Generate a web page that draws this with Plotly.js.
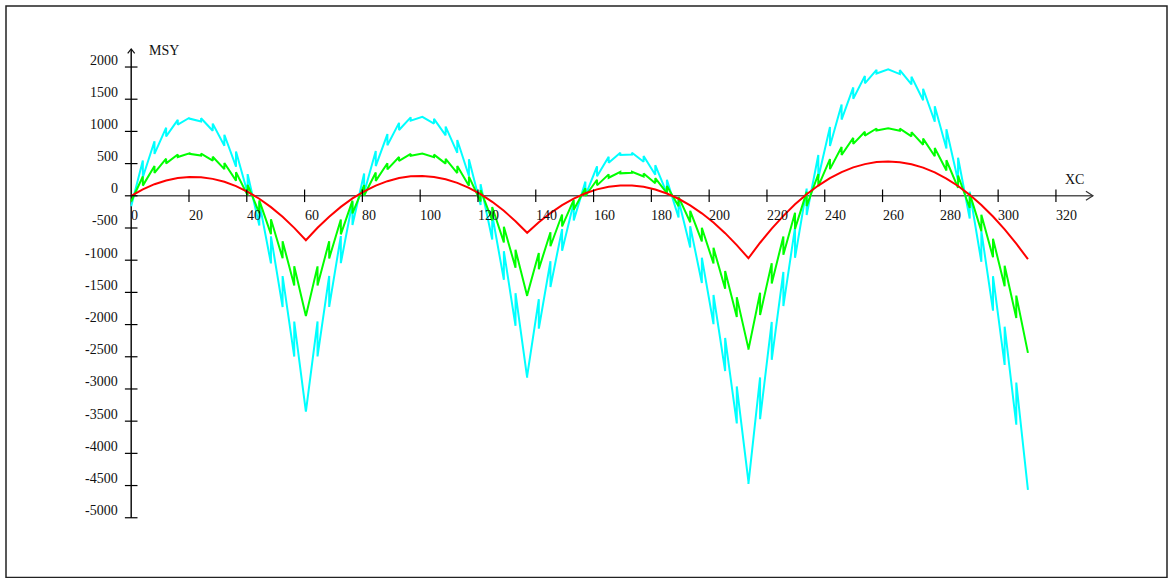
<!DOCTYPE html>
<html>
<head>
<meta charset="utf-8">
<script src="https://cdn.plot.ly/plotly-3.0.1.min.js"></script>
<style>html,body{margin:0;padding:0;background:#fff;}#chart{width:1175px;height:578px;}</style>
</head>
<body>
<div id="chart"></div>
<script>
// ---- data ----
// element node positions along the beam (XC)
const nodeX = [0,4.03,8.06,12.09,16.12,20.15,24.18,28.21,32.24,36.27,40.3,44.33,48.36,52.39,56.42,60.45,
  64.48,68.51,72.54,76.57,80.6,84.63,88.66,92.69,96.72,100.75,104.78,108.81,112.84,116.87,120.9,124.93,128.96,132.99,137.02,
  141.05,145.08,149.11,153.14,157.17,161.2,165.23,169.26,173.29,177.32,181.35,185.38,189.41,193.44,197.47,201.5,205.53,209.56,213.59,
  217.62,221.65,225.68,229.71,233.74,237.77,241.8,245.83,249.86,253.89,257.92,261.95,265.98,270.01,274.04,278.07,282.1,286.13,290.16,294.19,298.22,302.25,306.28,310.31];

// red series: value at each node
const redY = [0,100,180,238,276,292,288,263,217,150,62,-46,-176,-326,-498,-690,
  -496,-324,-172,-41,69,159,227,275,302,308,293,258,201,124,26,-93,-233,-394,-575,
  -411,-268,-145,-43,39,100,140,161,160,140,98,36,-46,-149,-272,-416,-580,-765,-970,
  -729,-510,-311,-133,23,159,274,368,441,492,523,533,522,490,437,363,268,152,15,-143,-322,-522,-743,-985];

// green series: value at start and at end of each element
const greenStart = [-88,158,355,503,602,652,654,606,510,365,171,-72,-364,-705,-1095,
  -1866,-1395,-972,-598,-273,4,231,410,541,622,655,639,574,461,298,87,-173,-481,-839,
  -1543,-1139,-784,-476,-216,-3,162,280,349,372,346,273,152,-17,-233,-497,-808,-1167,-1574,
  -2389,-1852,-1361,-915,-514,-159,150,414,633,806,933,1015,1052,1043,988,888,743,552,315,33,-295,-668,-1086,-1550];
const greenEnd = [300,463,577,642,659,626,545,414,235,7,-270,-596,-971,-1394,-1867,
  -1096,-707,-367,-76,167,361,506,602,650,649,599,500,353,157,-88,-382,-724,-1116,-1555,
  -887,-565,-290,-63,117,249,333,370,359,300,194,40,-162,-411,-708,-1052,-1445,-1884,-2372,
  -1506,-1046,-632,-263,61,339,571,758,899,995,1045,1050,1010,924,792,615,392,124,-190,-549,-954,-1404,-1899,-2440];

// cyan series: value at start and at end of each element
const cyanStart = [-161,289,650,922,1105,1199,1204,1121,948,687,337,-102,-630,-1247,-1953,
  -3353,-2495,-1726,-1046,-454,48,462,786,1022,1168,1226,1195,1075,866,568,181,-295,-860,-1513,
  -2800,-2064,-1416,-855,-382,4,302,512,634,669,617,476,248,-67,-471,-962,-1540,-2207,-2960,
  -4474,-3469,-2548,-1713,-964,-299,280,775,1184,1508,1746,1900,1968,1952,1850,1663,1390,1033,590,63,-550,-1248,-2032,-2900];
const cyanEnd = [549,848,1058,1180,1212,1156,1010,776,453,41,-460,-1050,-1728,-2496,-3352,
  -1951,-1244,-625,-96,345,696,959,1133,1218,1214,1121,939,668,308,-141,-678,-1305,-2020,-2824,
  -1605,-1017,-517,-105,220,457,606,668,642,528,327,38,-338,-802,-1355,-1994,-2721,-3536,-4438,
  -2820,-1959,-1183,-493,112,633,1068,1418,1683,1862,1956,1966,1890,1729,1483,1151,735,233,-354,-1026,-1784,-2626,-3554,-4566];

// axes
const xTicks = [0,20,40,60,80,100,120,140,160,180,200,220,240,260,280,300,320];
const yTicks = [2000,1500,1000,500,0,-500,-1000,-1500,-2000,-2500,-3000,-3500,-4000,-4500,-5000];
const xAxisEnd = 332.8;
const yAxisTop = 2280;
const xTitle = "XC";
const yTitle = "MSY";

// ---- build traces ----
function elementPath(starts, ends) {
  const xs = [], ys = [];
  for (let j = 0; j < starts.length; j++) {
    xs.push(nodeX[j], nodeX[j + 1]);
    ys.push(starts[j], ends[j]);
  }
  return {xs, ys};
}
const c = elementPath(cyanStart, cyanEnd);
const g = elementPath(greenStart, greenEnd);

const traces = [
  {x: c.xs, y: c.ys, mode: 'lines', line: {color: '#00ffff', width: 2}, hoverinfo: 'skip'},
  {x: g.xs, y: g.ys, mode: 'lines', line: {color: '#00ff00', width: 2}, hoverinfo: 'skip'},
  {x: nodeX, y: redY, mode: 'lines', line: {color: '#ff0000', width: 2}, hoverinfo: 'skip'},
  {x: xTicks.slice(1), y: xTicks.slice(1).map(() => 0), mode: 'markers',
   marker: {symbol: 'line-ns', size: 9, line: {color: '#000', width: 1.2}}, hoverinfo: 'skip'},
  {x: yTicks.map(() => 0), y: yTicks, mode: 'markers',
   marker: {symbol: 'line-ew', size: 9, line: {color: '#000', width: 1.2}}, hoverinfo: 'skip'}
];

const font = {family: '"Liberation Serif", "Times New Roman", serif', size: 14, color: '#111'};
const annotations = [];
xTicks.forEach(v => annotations.push({x: v, y: 0, xref: 'x', yref: 'y', text: String(v), showarrow: false,
  xanchor: 'left', yanchor: 'middle', yshift: -20, font: font, borderpad: 0, borderwidth: 0}));
yTicks.forEach(v => annotations.push({x: 0, y: v, xref: 'x', yref: 'y', text: String(v), showarrow: false,
  xanchor: 'right', yanchor: 'middle', xshift: -13, yshift: 7, font: font, borderpad: 0, borderwidth: 0}));
annotations.push({x: 0, y: yAxisTop, xref: 'x', yref: 'y', text: yTitle, showarrow: false,
  xanchor: 'left', yanchor: 'middle', xshift: 18, yshift: -2, font: font, borderpad: 0, borderwidth: 0});
annotations.push({x: xAxisEnd, y: 0, xref: 'x', yref: 'y', text: xTitle, showarrow: false,
  xanchor: 'left', yanchor: 'middle', xshift: -28, yshift: 16, font: font, borderpad: 0, borderwidth: 0});

const shapes = [
  // outer frame
  {type: 'rect', xref: 'paper', yref: 'paper', x0: 6/1175, x1: 1167/1175, y0: 0.5/578, y1: 1 - 6/578,
   line: {color: '#222', width: 1.5}, layer: 'below'},
  // x axis line
  {type: 'line', xref: 'x', yref: 'y', x0: 0, x1: xAxisEnd, y0: 0, y1: 0, line: {color: '#555', width: 1.5}, layer: 'below'},
  // y axis line
  {type: 'line', xref: 'x', yref: 'y', x0: 0, x1: 0, y0: yTicks[yTicks.length - 1], y1: yAxisTop, line: {color: '#111', width: 1.5}, layer: 'below'},
  // x arrow head
  {type: 'path', xref: 'x', yref: 'y', xsizemode: 'pixel', ysizemode: 'pixel', xanchor: xAxisEnd, yanchor: 0,
   path: 'M -7 -4.5 L 0 0 L -7 4.5', line: {color: '#333', width: 1.2}},
  // y arrow head
  {type: 'path', xref: 'x', yref: 'y', xsizemode: 'pixel', ysizemode: 'pixel', xanchor: 0, yanchor: yAxisTop,
   path: 'M -3.5 -4.5 L 0 0 L 3.5 -4.5', line: {color: '#111', width: 1.2}}
];

const layout = {
  width: 1175, height: 578,
  margin: {l: 0, r: 0, t: 0, b: 0, pad: 0},
  paper_bgcolor: '#fff', plot_bgcolor: '#fff',
  showlegend: false,
  xaxis: {range: [-45.4, 361.2], visible: false, fixedrange: true},
  yaxis: {range: [-5935.7, 3040.8], visible: false, fixedrange: true},
  annotations: annotations,
  shapes: shapes
};

Plotly.newPlot('chart', traces, layout, {displayModeBar: false, staticPlot: true});
</script>
</body>
</html>
